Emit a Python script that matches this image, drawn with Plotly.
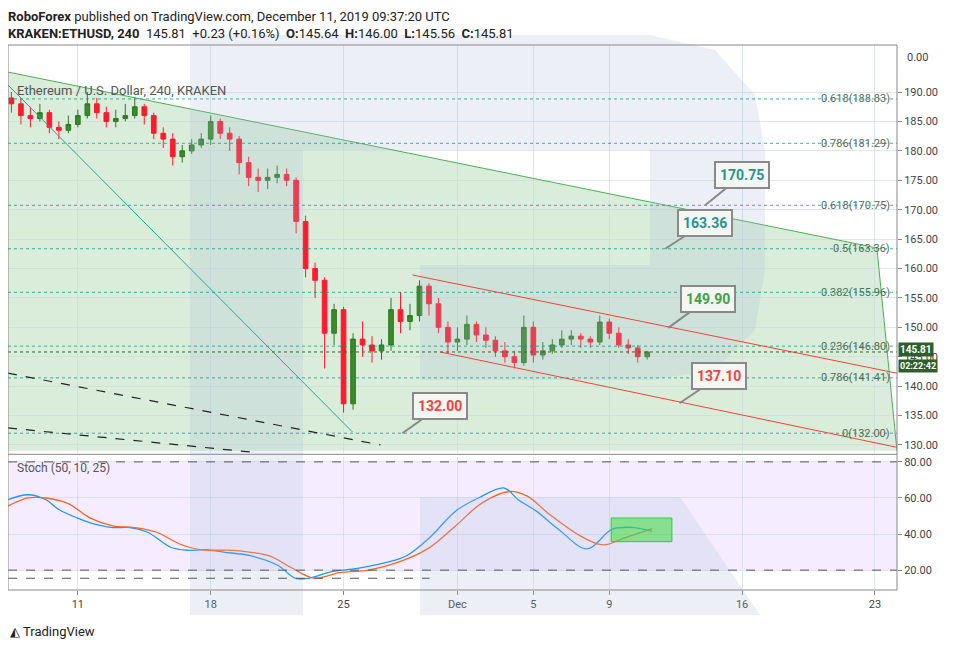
import pandas as pd
import plotly.graph_objects as go

# 12h candles, x = day number counted from Nov 1 (Dec 1 = 31)
days = [7.5 + 0.5 * i for i in range(68)]
close = [188, 186, 185.5, 186.5, 184, 183.5, 184.5, 186, 188, 186.5, 185, 185.5, 186, 187.5,
         186, 183, 182, 179, 180, 181, 182, 185, 183, 182, 178, 175.5, 175, 175.5, 176, 175,
         168, 160, 158, 149, 153, 137, 148, 147, 146, 147, 153, 151, 152, 157, 154, 150,
         147.5, 148, 150.5, 148.7, 147.8, 146, 145, 144, 150, 145.3, 146, 147, 148, 148.5,
         148, 147.5, 150.9, 149, 147, 146.5, 145, 145.81]
open_ = [189] + close[:-1]
high = [190, 189, 187.5, 188, 187, 185, 186, 187, 190, 189, 187.5, 187, 188, 189, 188, 186.5,
        184, 183, 181, 182, 183, 186, 185.5, 184, 182.5, 179, 177, 177, 177.5, 177, 175.5, 169,
        161, 158.5, 154, 153.5, 149, 151, 148.5, 148, 155, 156, 154, 158, 157.5, 155, 151, 150,
        152, 151, 150, 148.5, 147.5, 146, 152, 151, 147.5, 148, 149.5, 149.5, 149, 148.5, 152,
        151.5, 150, 148, 147, 146]
low = [186.5, 184.5, 184, 185, 183, 182, 183, 184, 185.5, 185.5, 184, 184, 185, 185.5, 184.5,
       182, 180.5, 177.5, 178, 179.5, 180.5, 181, 182, 180, 176, 174, 173, 173.5, 174.5, 174,
       166, 158.5, 155, 143, 147, 135.5, 136, 145, 144, 144.5, 146, 149, 149.5, 151, 152, 149,
       145.5, 146, 147, 147.5, 146.5, 145, 144, 143, 143.5, 144, 144.5, 145.5, 146.5, 147,
       146.5, 146.5, 147, 148, 146.5, 145.5, 144, 144.5]

stoch_k_days = [7.32, 8.37, 9.32, 10.0, 10.95, 11.89, 12.84, 13.74, 14.68, 15.89, 16.79, 17.74,
                18.68, 20.1, 21.53, 22.47, 23.16, 24.32, 25.74, 27.16, 28.32, 29.53, 30.9, 32.1,
                33.47, 34.2, 35.16, 36.32, 37.84, 39.16, 40.32, 41.26]
stoch_k = [59.1, 61.8, 59, 53.6, 49, 45.5, 43.6, 43.6, 41, 32.7, 31, 31.3, 30, 28, 22.7, 15.5,
           15.5, 19, 21, 24, 28, 38, 52.7, 60, 65.5, 59, 52.7, 42.7, 31.8, 42.7, 43.6, 41.5]
stoch_d_days = [7.32, 8.37, 9.32, 10.47, 11.63, 12.84, 14.0, 15.16, 16.37, 17.53, 19.16, 21.05,
                22.21, 23.42, 24.79, 26.21, 28.11, 29.53, 30.9, 32.3, 33.74, 34.68, 35.84, 37.47,
                38.68, 39.84, 41.26]
stoch_d = [55.5, 60, 60, 57, 49, 44.5, 43.6, 41, 34.5, 31.2, 31, 28, 21.6, 15.6, 18.6, 19.9,
           25.3, 32.5, 44.5, 57.3, 63.6, 61, 51, 39, 34, 38, 43]

fib_levels = [188.83, 181.29, 170.75, 163.36, 155.96, 146.80, 141.41, 132.00]
fib_labels = ["0.618(188.83)", "0.786(181.29)", "0.618(170.75)", "0.5(163.36)",
              "0.382(155.96)", "0.236(146.80)", "0.786(141.41)", "0(132.00)"]

callout_x = [44.05, 41.95, 42.1, 42.7, 28.1]
callout_y = [170.75, 163.36, 149.90, 137.10, 132.00]
callout_color = ["#26958f", "#26958f", "#43a047", "#f0443a", "#f0443a"]

tick_days = [11, 18, 25, 31, 35, 39, 46, 53]
tick_text = ["11", "18", "25", "Dec", "5", "9", "16", "23"]

X0, X1 = 7.32, 54.16
W, H = 954, 651
OFF = 8  # page body margin
L, R, T, B = 0, 65, 37, 69
PW, PH = W - L - R, H - T - B


def px(x, y):
    # screen pixel -> paper coordinates, used only for the decorative logo
    return (x - OFF - L) / PW, (H - B - (y - OFF)) / PH


def path(points):
    return "M" + " L".join(f"{a:.4f},{b:.4f}" for a, b in (px(x, y) for x, y in points)) + " Z"


fig = go.Figure()

fig.add_trace(go.Candlestick(
    x=days, open=open_, high=high, low=low, close=close,
    increasing=dict(line=dict(color="#2f7a22", width=1), fillcolor="#3a8a2a"),
    decreasing=dict(line=dict(color="#ff1b2d", width=1), fillcolor="#ff1b2d"),
    whiskerwidth=0, showlegend=False, xaxis="x", yaxis="y",
))
fig.add_trace(go.Scatter(x=stoch_k_days, y=stoch_k, mode="lines", line=dict(color="#2196f3", width=1.3, shape="spline"),
                         xaxis="x2", yaxis="y2", showlegend=False))
fig.add_trace(go.Scatter(x=stoch_d_days, y=stoch_d, mode="lines", line=dict(color="#f4672a", width=1.3, shape="spline"),
                         xaxis="x2", yaxis="y2", showlegend=False))

shapes = []
# green area under the descending line
shapes.append(dict(type="path", xref="x", yref="y", layer="below",
                   path=f"M{X0},193.4 L53.1,163.5 L{X1},129 L{X0},129 Z",
                   fillcolor="rgba(140,200,140,0.32)", line=dict(width=0)))
shapes.append(dict(type="line", xref="x", yref="y", x0=X0, y0=193.4, x1=53.1, y1=163.5,
                   line=dict(color="#4caf50", width=1)))
shapes.append(dict(type="line", xref="x", yref="y", x0=53.1, y0=163.5, x1=X1, y1=129,
                   line=dict(color="#4caf50", width=1)))
# stoch band
shapes.append(dict(type="rect", xref="paper", yref="y2", x0=0, x1=1, y0=20, y1=80, layer="below",
                   fillcolor="rgba(233,215,255,0.45)", line=dict(width=0)))
# R logo watermark
logo = "rgba(170,185,215,0.22)"
for pts in [
    [(190, 35), (303, 35), (303, 615), (190, 615)],
    [(303, 35), (650, 35), (715, 50), (755, 95), (765, 150), (765, 270), (755, 330), (715, 370),
     (650, 380), (420, 380), (420, 265), (650, 265), (650, 150), (303, 150)],
    [(420, 497), (680, 497), (760, 615), (420, 615)],
]:
    shapes.append(dict(type="path", xref="paper", yref="paper", path=path(pts),
                       fillcolor=logo, line=dict(width=0), layer="above"))
# fib levels
for lv in fib_levels:
    shapes.append(dict(type="line", xref="x", yref="y", x0=X0, x1=X1, y0=lv, y1=lv,
                       line=dict(color="rgba(0,150,136,0.75)", width=1, dash="dot")))
# trend lines
for x0, y0, x1, y1, col, dash in [
    (X0, 191.2, 25.47, 132.2, "#26a69a", "solid"),
    (28.63, 158.9, X1, 142.2, "#f44336", "solid"),
    (30.1, 145.8, X1, 129.6, "#f44336", "solid"),
    (X0, 142.2, 26.95, 130.0, "#222222", "dash"),
    (X0, 132.9, 20.1, 128.8, "#222222", "dash"),
]:
    shapes.append(dict(type="line", xref="x", yref="y", x0=x0, y0=y0, x1=x1, y1=y1,
                       line=dict(color=col, width=1.2 if dash == "dash" else 1, dash=dash)))
shapes.append(dict(type="line", xref="x", yref="y", x0=X0, x1=X1, y0=145.81, y1=145.81,
                   line=dict(color="#33691e", width=1, dash="dot")))
# stoch lines
for lv in [80, 20]:
    shapes.append(dict(type="line", xref="x2", yref="y2", x0=X0, x1=X1, y0=lv, y1=lv,
                       line=dict(color="#555", width=1, dash="dash")))
shapes.append(dict(type="line", xref="x2", yref="y2", x0=X0, x1=29.53, y0=15.5, y1=15.5,
                   line=dict(color="#555", width=1.2, dash="dash")))
shapes.append(dict(type="rect", xref="x2", yref="y2", x0=39.1, x1=42.3, y0=35.8, y1=48.9,
                   fillcolor="rgba(60,220,60,0.55)", line=dict(color="#2ecc40", width=1)))
# panel separator and frame
shapes.append(dict(type="line", xref="paper", yref="paper", x0=0, x1=1, y0=0.249, y1=0.249,
                   line=dict(color="#888", width=1)))
shapes.append(dict(type="rect", xref="paper", yref="paper", x0=0, x1=1, y0=0, y1=1,
                   line=dict(color="#888", width=1)))

ann = []
for lv, lab in zip(fib_levels, fib_labels):
    ann.append(dict(x=53.9, y=lv, xref="x", yref="y", text=lab, showarrow=False, xanchor="right",
                    yanchor="middle", font=dict(size=11, color="#5a6a5a")))
offsets = [(37, -30), (40, -26), (40, -29), (40, -27), (38, -27)]
for x, y, c, (ax, ay) in zip(callout_x, callout_y, callout_color, offsets):
    ann.append(dict(x=x, y=y, xref="x", yref="y", text=f"<b>{y:.2f}</b>", showarrow=True,
                    arrowhead=0, arrowcolor="#888", arrowwidth=2, ax=ax, ay=ay,
                    bgcolor="#f4f6f4", bordercolor="#8a8a8a", borderwidth=2, borderpad=4,
                    font=dict(size=14, color=c, family="Roboto")))
ann += [
    dict(x=0, y=1, xref="paper", yref="paper", xanchor="left", yanchor="bottom",
         text="<b>RoboForex</b> published on TradingView.com, December 11, 2019 09:37:20 UTC",
         showarrow=False, font=dict(size=13, color="#222"), xshift=-2, yshift=19),
    dict(x=0, y=1, xref="paper", yref="paper", xanchor="left", yanchor="bottom",
         text="<b>KRAKEN:ETHUSD, 240</b>  145.81  +0.23 (+0.16%)  <b>O:</b>145.64  <b>H:</b>146.00  "
              "<b>L:</b>145.56  <b>C:</b>145.81",
         showarrow=False, font=dict(size=13, color="#222"), xshift=-2, yshift=2),
    dict(x=0.008, y=1, xref="paper", yref="paper", xanchor="left", yanchor="top", showarrow=False,
         text="Ethereum / U.S. Dollar, 240, KRAKEN", font=dict(size=13, color="#555"), yshift=-36),
    dict(x=0.008, y=0.244, xref="paper", yref="paper", xanchor="left", yanchor="top", showarrow=False,
         text="Stoch (50, 10, 25)", font=dict(size=12, color="#555"), yshift=-2),
    dict(x=1, y=1, xref="paper", yref="paper", xanchor="left", yanchor="middle", showarrow=False,
         text="0.00", font=dict(size=11, color="#444"), xshift=8, yshift=-12),
    dict(x=1, y=145.81, xref="paper", yref="y", xanchor="left", yanchor="middle", showarrow=False,
         text="<b>145.81</b>", bgcolor="#2e5e2a", font=dict(size=10, color="white"),
         xshift=1, yshift=2, borderpad=1),
    dict(x=1, y=145.81, xref="paper", yref="y", xanchor="left", yanchor="middle", showarrow=False,
         text="<b>02:22:42</b>", bgcolor="#2e5e2a", font=dict(size=9, color="white"),
         xshift=1, yshift=-14, borderpad=1),
    dict(x=0, y=0, xref="paper", yref="paper", xanchor="left", yanchor="top", showarrow=False,
         text="◭ TradingView", font=dict(size=13, color="#222"), yshift=-32),
]

grid = "rgba(200,215,225,0.6)"
fig.update_layout(
    width=W, height=H, margin=dict(l=L, r=R, t=T, b=B),
    paper_bgcolor="white", plot_bgcolor="white",
    font=dict(family="Roboto", color="#444"),
    shapes=shapes, annotations=ann,
    xaxis=dict(domain=[0, 1], range=[X0, X1], anchor="y", showticklabels=False,
               tickvals=tick_days, showgrid=True, gridcolor=grid, rangeslider=dict(visible=False),
               zeroline=False),
    yaxis=dict(domain=[0.251, 1], range=[128.6, 198], side="right", tickvals=list(range(130, 195, 5)),
               ticktext=[f"{v}.00" for v in range(130, 195, 5)], ticks="outside", ticklen=4,
               tickcolor="#888", showgrid=True, gridcolor=grid, zeroline=False, tickfont=dict(size=11)),
    xaxis2=dict(domain=[0, 1], range=[X0, X1], anchor="y2", matches="x", tickvals=tick_days,
                ticktext=tick_text, ticks="outside", ticklen=4, tickcolor="#888", showgrid=True,
                gridcolor=grid, zeroline=False, tickfont=dict(size=11)),
    yaxis2=dict(domain=[0, 0.244], range=[9, 82.7], side="right", tickvals=[20, 40, 60, 80],
                ticktext=["20.00", "40.00", "60.00", "80.00"], ticks="outside", ticklen=4,
                tickcolor="#888", showgrid=True, gridcolor=grid, zeroline=False, tickfont=dict(size=11)),
)

fig.write_html("out.html")
